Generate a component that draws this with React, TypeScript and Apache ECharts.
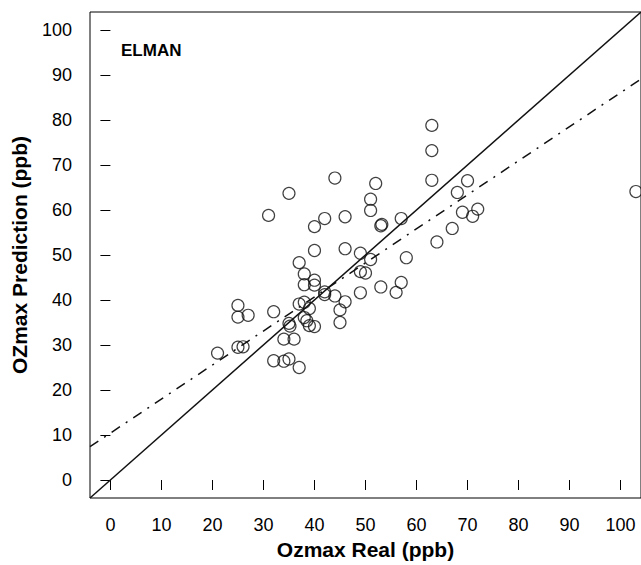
import React, { useEffect, useRef } from "react";
import * as echarts from "echarts";

const realValues = [
  63, 63, 63, 44, 35, 52, 51, 51, 31, 42, 46, 40, 53, 53.2, 57, 70, 68, 72, 69, 71, 67, 64, 103,
  40, 46, 49, 51, 58, 37, 38, 49, 50, 40, 38, 40, 53, 57, 56, 49, 42, 42, 44, 46, 45, 45,
  37, 38, 39, 38, 38.5, 39, 40, 35, 35.2, 34, 36, 32, 25, 25, 27, 21, 25, 26, 32, 34, 35, 37,
];
const predValues = [
  78.8, 73.2, 66.6, 67.1, 63.7, 65.9, 62.4, 59.9, 58.8, 58.1, 58.5, 56.3, 56.5, 56.8, 58.1, 66.5, 63.9, 60.2, 59.5, 58.6, 55.9, 52.9, 64.1,
  51.0, 51.4, 50.4, 49.0, 49.4, 48.3, 45.8, 46.3, 46.0, 44.4, 43.4, 43.3, 42.9, 43.9, 41.7, 41.6, 41.8, 41.2, 40.9, 39.6, 37.8, 35.0,
  39.1, 39.5, 38.1, 36.1, 35.4, 34.3, 34.1, 34.8, 34.2, 31.3, 31.3, 37.4, 38.8, 36.2, 36.6, 28.2, 29.5, 29.6, 26.5, 26.4, 26.9, 25.0,
];

// Reference lines (end points)
const identityX = [-4, 104];
const identityY = [-4, 104];
const fitX = [-4, 104];
const fitY = [7.4, 89.1];

const tickValues = [0, 10, 20, 30, 40, 50, 60, 70, 80, 90, 100];

const FONT = "'Liberation Sans', Arial, Helvetica, sans-serif";

export default function App() {
  const ref = useRef<HTMLDivElement>(null);

  useEffect(() => {
    if (!ref.current) return;
    const chart = echarts.init(ref.current, undefined, { renderer: "svg" });

    const points = realValues.map((x, i) => [x, predValues[i]]);
    const idLine = identityX.map((x, i) => [x, identityY[i]]);
    const fitLine = fitX.map((x, i) => [x, fitY[i]]);

    const axisCommon = {
      type: "value" as const,
      min: -4,
      max: 104,
      axisLine: { show: false },
      splitLine: { show: false },
      axisTick: {
        show: true,
        inside: false,
        length: 10,
        customValues: tickValues,
        lineStyle: { color: "#000", width: 1 },
      },
      axisLabel: {
        customValues: tickValues,
        color: "#000",
        fontSize: 18,
        fontFamily: FONT,
      },
      nameLocation: "middle" as const,
      nameTextStyle: {
        color: "#000",
        fontSize: 21,
        fontWeight: "bold" as const,
        fontFamily: FONT,
      },
    };

    chart.setOption({
      animation: false,
      backgroundColor: "#fff",
      title: {
        text: "ELMAN",
        left: 116,
        top: 37,
        textStyle: {
          color: "#000",
          fontSize: 17,
          fontWeight: "bold",
          fontFamily: FONT,
        },
      },
      grid: {
        left: 90,
        top: 12,
        width: 552,
        height: 486,
        show: true,
        borderColor: "#000",
        borderWidth: 1,
        backgroundColor: "transparent",
        containLabel: false,
      },
      xAxis: {
        ...axisCommon,
        name: "Ozmax Real (ppb)",
        nameGap: 40,
        axisLabel: { ...axisCommon.axisLabel, margin: 18 },
      },
      yAxis: {
        ...axisCommon,
        name: "OZmax Prediction (ppb)",
        nameGap: 60,
        axisLabel: { ...axisCommon.axisLabel, margin: 18 },
      },
      series: [
        {
          type: "line",
          data: idLine,
          symbol: "none",
          clip: true,
          lineStyle: { color: "#111", width: 1.5, type: "solid" },
          silent: true,
        },
        {
          type: "line",
          data: fitLine,
          symbol: "none",
          clip: true,
          lineStyle: { color: "#111", width: 1.5, type: [10, 7, 2, 7] },
          silent: true,
        },
        {
          type: "scatter",
          data: points,
          symbol: "circle",
          symbolSize: 12,
          clip: true,
          itemStyle: {
            color: "rgba(0,0,0,0)",
            borderColor: "#111",
            borderWidth: 1.2,
          },
        },
      ],
    });

    return () => chart.dispose();
  }, []);

  return (
    <div
      ref={ref}
      style={{ position: "fixed", left: 0, top: 0, width: 641, height: 565, background: "#fff" }}
    />
  );
}
